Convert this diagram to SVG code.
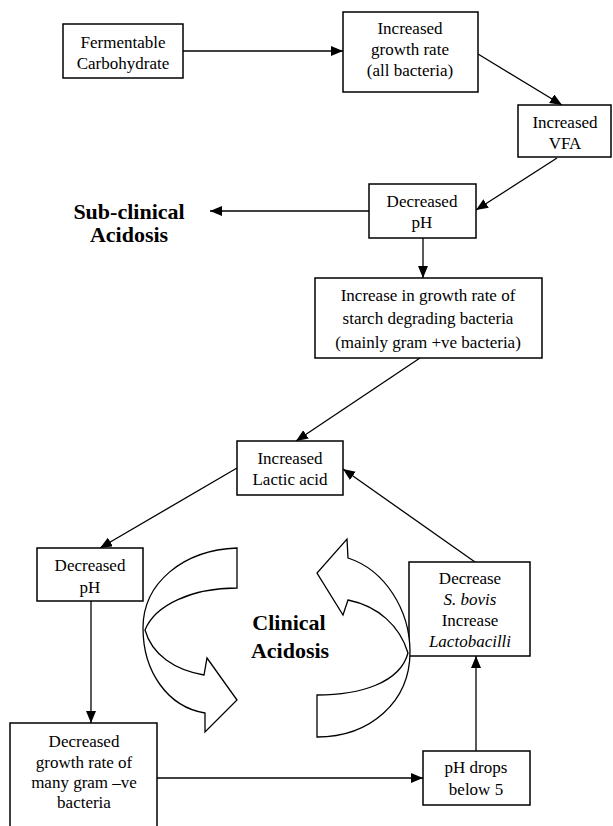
<svg xmlns="http://www.w3.org/2000/svg" width="613" height="826" viewBox="0 0 613 826">
<defs>
<marker id="ah" markerUnits="userSpaceOnUse" markerWidth="14" markerHeight="12" refX="12" refY="5" orient="auto">
<path d="M0,0 L12,5 L0,10 Z" fill="#000"/>
</marker>
<style>
.box{fill:#fff;stroke:#000;stroke-width:1.5}
.t{font-family:"Liberation Serif","Times New Roman",Tinos,"DejaVu Serif",serif;font-size:17px;fill:#000;text-anchor:middle}
.b{font-family:"Liberation Serif","Times New Roman",Tinos,"DejaVu Serif",serif;font-size:22px;font-weight:bold;fill:#000;text-anchor:middle}
.c{fill:none;stroke:#000;stroke-width:1.3;marker-end:url(#ah)}
.ca{fill:#fff;stroke:#000;stroke-width:1.3;stroke-linejoin:miter}
</style>
</defs>
<rect width="613" height="826" fill="#fff"/>
<g id="connectors">
<line class="c" x1="183" y1="51" x2="343" y2="51"/>
<line class="c" x1="478" y1="54" x2="562" y2="105"/>
<line class="c" x1="557" y1="158" x2="476" y2="210"/>
<line class="c" x1="369" y1="211" x2="210" y2="211"/>
<line class="c" x1="423" y1="238" x2="423" y2="278"/>
<line class="c" x1="420" y1="358" x2="296" y2="441"/>
<line class="c" x1="237" y1="468" x2="100" y2="548"/>
<line class="c" x1="475" y1="562" x2="343" y2="469"/>
<line class="c" x1="91" y1="601" x2="91" y2="723"/>
<line class="c" x1="157" y1="778" x2="423" y2="778"/>
<line class="c" x1="476" y1="751" x2="476" y2="656"/>
</g>
<g id="fermentable">
<rect class="box" x="63" y="24" width="120" height="54"/>
<text class="t" x="123" y="48">Fermentable</text>
<text class="t" x="123" y="69">Carbohydrate</text>
</g>
<g id="growth-all">
<rect class="box" x="343" y="12" width="135" height="80"/>
<text class="t" x="410" y="34">Increased</text>
<text class="t" x="410" y="55">growth rate</text>
<text class="t" x="410" y="76">(all bacteria)</text>
</g>
<g id="vfa">
<rect class="box" x="518" y="105" width="93" height="52"/>
<text class="t" x="565" y="128">Increased</text>
<text class="t" x="565" y="149">VFA</text>
</g>
<g id="ph1">
<rect class="box" x="369" y="184" width="107" height="54"/>
<text class="t" x="422" y="207">Decreased</text>
<text class="t" x="422" y="228">pH</text>
</g>
<g id="subclinical">
<text class="b" x="129" y="219">Sub-clinical</text>
<text class="b" x="129" y="242">Acidosis</text>
</g>
<g id="starch">
<rect class="box" x="315" y="278" width="227" height="80"/>
<text class="t" x="428" y="301">Increase in growth rate of</text>
<text class="t" x="428" y="324">starch degrading bacteria</text>
<text class="t" x="428" y="348">(mainly gram +ve bacteria)</text>
</g>
<g id="lactic">
<rect class="box" x="237" y="441" width="106" height="54"/>
<text class="t" x="290" y="464">Increased</text>
<text class="t" x="290" y="485">Lactic acid</text>
</g>
<g id="ph2">
<rect class="box" x="37" y="548" width="106" height="53"/>
<text class="t" x="90" y="571">Decreased</text>
<text class="t" x="90" y="593">pH</text>
</g>
<g id="sbovis">
<rect class="box" x="409" y="562" width="121" height="94"/>
<text class="t" x="470" y="584">Decrease</text>
<text class="t" x="470" y="605" font-style="italic">S. bovis</text>
<text class="t" x="470" y="626">Increase</text>
<text class="t" x="470" y="647" font-style="italic">Lactobacilli</text>
</g>
<g id="clinical">
<path class="ca" d="M237,548 C183,550 143,583 143,628 C143,672 168,707 205,713 L205,732 L237,700 L207,658 L204,675 C175,670 152,655 145,630 C155,605 192,588 237,588 Z"/>
<path class="ca" d="M317,695 C360,695 400,683 408,653 C400,626 378,606 348,600 L343,615 L317,573 L347,539 L348,558 C385,570 410,610 410,652 C410,702 370,737 317,737 Z"/>
<text class="b" x="289" y="630" font-size="23">Clinical</text>
<text class="b" x="290" y="658" font-size="23">Acidosis</text>
</g>
<g id="gramneg">
<rect class="box" x="10" y="723" width="147" height="115"/>
<text class="t" x="84" y="747">Decreased</text>
<text class="t" x="84" y="768">growth rate of</text>
<text class="t" x="84" y="788">many gram –ve</text>
<text class="t" x="84" y="808">bacteria</text>
</g>
<g id="ph5">
<rect class="box" x="423" y="751" width="107" height="54"/>
<text class="t" x="476" y="773">pH drops</text>
<text class="t" x="476" y="795">below 5</text>
</g>
</svg>
